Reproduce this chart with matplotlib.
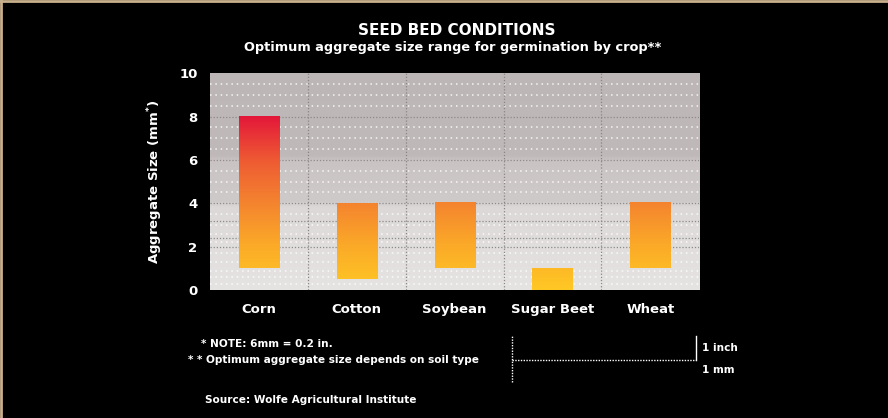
import numpy as np
import matplotlib.pyplot as plt
from matplotlib.colors import LinearSegmentedColormap

crops = ["Corn", "Cotton", "Soybean", "Sugar Beet", "Wheat"]
range_low = [1, 0.5, 1, 0, 1]
range_high = [8, 4, 4, 1, 4]
y_ticks = [0, 2, 4, 6, 8, 10]

plt.rcParams["font.family"] = ["Liberation Sans Narrow", "DejaVu Sans"]
plt.rcParams["font.weight"] = "bold"

fig = plt.figure(figsize=(8.88, 4.18), dpi=100, facecolor="black")
ax = fig.add_axes([0.2365, 0.306, 0.551, 0.519])

# grey backdrop, darker at the top and lighter toward zero
bg_cmap = LinearSegmentedColormap.from_list(
    "bg", [(0.0, "#e6e3e3"), (0.38, "#dcd8d8"), (0.41, "#cfcaca"),
           (0.6, "#c9c4c3"), (0.62, "#bfbab9"), (1.0, "#bcb7b6")])
bg = np.linspace(0, 1, 200).reshape(-1, 1)
ax.imshow(bg, extent=(-0.5, 4.5, 0, 10), origin="lower", aspect="auto",
          cmap=bg_cmap, zorder=0)

# dotted texture rows, closer together toward the bottom
for y in [0.3, 0.6, 0.9, 1.3, 1.7, 2.2, 2.6, 3.0, 3.5, 4.5, 5.0, 5.5,
          6.5, 7.0, 7.5, 8.5, 9.0, 9.5]:
    ax.axhline(y, color="#ffffff", lw=1.1, ls=(0, (1, 2.5)), alpha=0.85,
               zorder=1)
for y in [2, 2.4, 3.2, 4, 6, 8]:
    ax.axhline(y, color="#8f8a89", lw=0.9, ls=(0, (1, 1.5)), zorder=1)
for x in np.arange(0.5, 4.5, 1):
    ax.axvline(x, color="#8a8584", lw=0.9, ls=(0, (1, 1.5)), zorder=1)

bar_cmap = LinearSegmentedColormap.from_list(
    "bars", ["#ffc824", "#fbaa28", "#f4842f", "#ee5a33", "#e4183a"])
width = 0.41
for i, (lo, hi) in enumerate(zip(range_low, range_high)):
    grad = np.linspace(lo, hi, 100).reshape(-1, 1)
    ax.imshow(grad, extent=(i - width / 2, i + width / 2, lo, hi),
              origin="lower", aspect="auto", cmap=bar_cmap,
              vmin=0, vmax=8, zorder=3)

ax.set_xlim(-0.5, 4.5)
ax.set_ylim(0, 10)
ax.set_xticks(range(len(crops)))
ax.set_xticklabels(crops)
ax.set_yticks(y_ticks)
ax.tick_params(colors="white", labelsize=9.5, length=0, pad=9)
for side in ax.spines.values():
    side.set_visible(False)
ax.set_ylabel("Aggregate Size (mm$^{*}$)", color="white", fontsize=9.5,
              fontweight="bold", labelpad=10)

fig.text(0.514, 0.927, "SEED BED CONDITIONS", color="white", fontsize=11,
         fontweight="bold", ha="center", va="center")
fig.text(0.51, 0.887, "Optimum aggregate size range for germination by crop**",
         color="white", fontsize=9.3, fontweight="bold", ha="center",
         va="center")

fig.text(0.226, 0.178, "* NOTE: 6mm = 0.2 in.", color="white", fontsize=7.6,
         ha="left", va="center")
fig.text(0.212, 0.138, "* * Optimum aggregate size depends on soil type",
         color="white", fontsize=7.6, ha="left", va="center")
fig.text(0.231, 0.043, "Source: Wolfe Agricultural Institute", color="white",
         fontsize=7.6, ha="left", va="center")

# scale bar: one inch against one millimetre
fig.add_artist(plt.Line2D([0.577, 0.577], [0.087, 0.195], color="white",
                          lw=1, ls=(0, (1, 1))))
fig.add_artist(plt.Line2D([0.577, 0.784], [0.138, 0.138], color="white",
                          lw=1, ls=(0, (1, 1))))
fig.add_artist(plt.Line2D([0.784, 0.784], [0.138, 0.195], color="white", lw=1))
fig.text(0.79, 0.168, "1 inch", color="white", fontsize=7.6, ha="left",
         va="center")
fig.text(0.79, 0.115, "1 mm", color="white", fontsize=7.6, ha="left",
         va="center")

# tan edge along the top and left
fig.add_artist(plt.Line2D([0, 1], [0.998, 0.998], color="#c9b08c", lw=2))
fig.add_artist(plt.Line2D([0.001, 0.001], [0, 1], color="#c9b08c", lw=2))

fig.savefig("out.png", dpi=100, facecolor=fig.get_facecolor())
